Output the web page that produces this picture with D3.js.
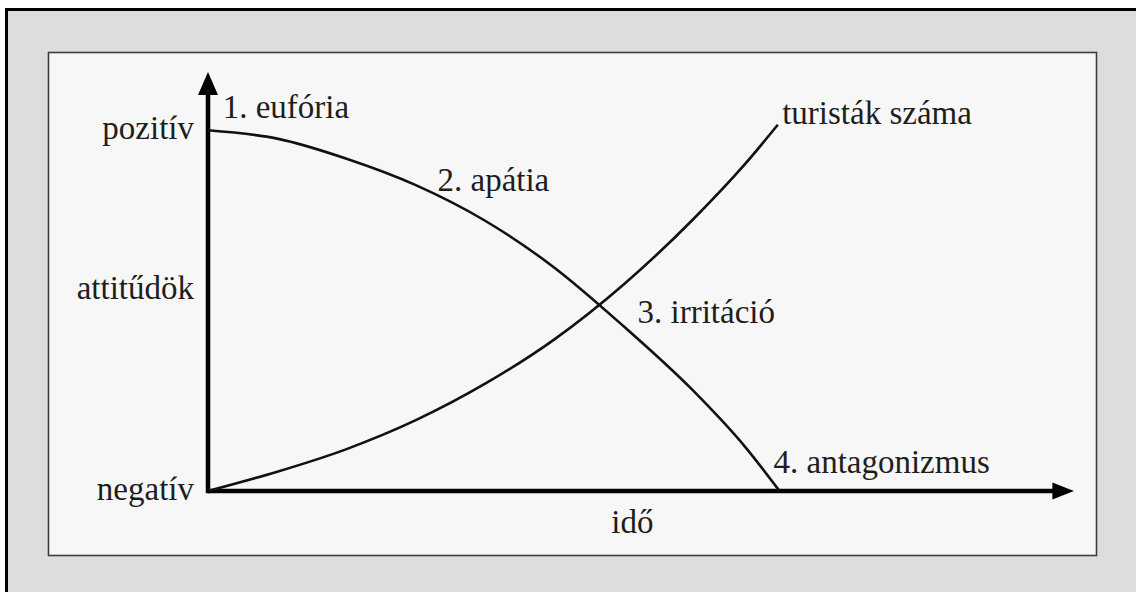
<!DOCTYPE html>
<html>
<head>
<meta charset="utf-8">
<script src="https://cdn.jsdelivr.net/npm/d3@7"></script>
<style>
  html, body { margin: 0; padding: 0; background: #ffffff; }
  svg { display: block; }
  svg text { font-family: "Liberation Serif", Tinos, "DejaVu Serif", serif; font-size: 33px; fill: #1e1e1e; }
</style>
</head>
<body>
<script>
// ---- data (time 0..100, attitude/level 0..100) ----
const attitudeTime  = [0, 8, 16, 24, 32, 40, 48, 56, 62, 66];
const attitudeValue = [86.1, 84.1, 79.3, 73.0, 64.5, 53.3, 39.3, 24.0, 10.6, 0];
const touristTime   = [0, 8, 16, 24, 32, 40, 48, 56, 62, 65.8];
const touristValue  = [0, 4.6, 10.0, 16.9, 25.6, 36.2, 49.3, 64.8, 78.0, 87.4];
const yTickValues   = [86, 48, 0];
const yTickLabels   = ["pozitív", "attitűdök", "negatív"];
const phaseLabels   = ["1. eufória", "2. apátia", "3. irritáció", "4. antagonizmus"];
const phaseAt       = [[1.7, 89], [26.5, 71.5], [49.6, 40], [65.3, 4.2]];
const seriesLabel   = "turisták száma";
const xAxisLabel    = "idő";

const W = 1136, H = 592;
const svg = d3.select("body").append("svg").attr("width", W).attr("height", H);

// frame
svg.append("rect").attr("x", 5).attr("y", 8).attr("width", W).attr("height", H).attr("fill", "#000");
svg.append("rect").attr("x", 8).attr("y", 11).attr("width", W).attr("height", H).attr("fill", "#dddddd");
svg.append("rect").attr("x", 48.5).attr("y", 52.5).attr("width", 1048).attr("height", 503)
  .attr("fill", "#f7f7f7").attr("stroke", "#3c3c3c").attr("stroke-width", 1.6);

const x = d3.scaleLinear().domain([0, 100]).range([208, 1074]);
const y = d3.scaleLinear().domain([0, 100]).range([491, 72]);

// axes with arrows
const axisG = svg.append("g");
axisG.append("line").attr("x1", x(0)).attr("x2", x(97.6)).attr("y1", y(0)).attr("y2", y(0))
  .attr("stroke", "#000").attr("stroke-width", 4.5);
axisG.append("line").attr("x1", x(0)).attr("x2", x(0)).attr("y1", y(0) + 2.2).attr("y2", y(95))
  .attr("stroke", "#000").attr("stroke-width", 4.5);
axisG.append("path")
  .attr("d", `M${x(100)},${y(0)} L${x(97.5)},${y(0) - 8.5} L${x(97.5)},${y(0) + 8.5} Z`)
  .attr("fill", "#000");
axisG.append("path")
  .attr("d", `M${x(0)},${y(100)} L${x(0) - 10},${y(94.5)} L${x(0) + 10},${y(94.5)} Z`)
  .attr("fill", "#000");

// y tick labels via axis
const yAxis = d3.axisLeft(y).tickValues(yTickValues)
  .tickFormat((d, i) => yTickLabels[i]).tickSize(0).tickPadding(0);
const ya = svg.append("g").attr("transform", `translate(${x(0) - 14},0)`).call(yAxis);
ya.attr("font-family", null).attr("font-size", null);
ya.select(".domain").remove();
ya.selectAll("text").attr("fill", null).attr("dy", "0.25em");

// curves
const line = d3.line().x(d => x(d[0])).y(d => y(d[1])).curve(d3.curveMonotoneX);
svg.append("path").datum(attitudeTime.map((t, i) => [t, attitudeValue[i]]))
  .attr("d", line).attr("fill", "none").attr("stroke", "#111").attr("stroke-width", 2.6);
svg.append("path").datum(touristTime.map((t, i) => [t, touristValue[i]]))
  .attr("d", line).attr("fill", "none").attr("stroke", "#111").attr("stroke-width", 2.6);

// labels
svg.selectAll("text.phase").data(phaseLabels).enter().append("text")
  .attr("class", "phase")
  .attr("x", (d, i) => x(phaseAt[i][0]))
  .attr("y", (d, i) => y(phaseAt[i][1]))
  .text(d => d);
svg.append("text").attr("x", x(66.3)).attr("y", y(87.5)).text(seriesLabel);
svg.append("text").attr("x", x(49)).attr("y", 533).attr("text-anchor", "middle").text(xAxisLabel);
</script>
</body>
</html>
